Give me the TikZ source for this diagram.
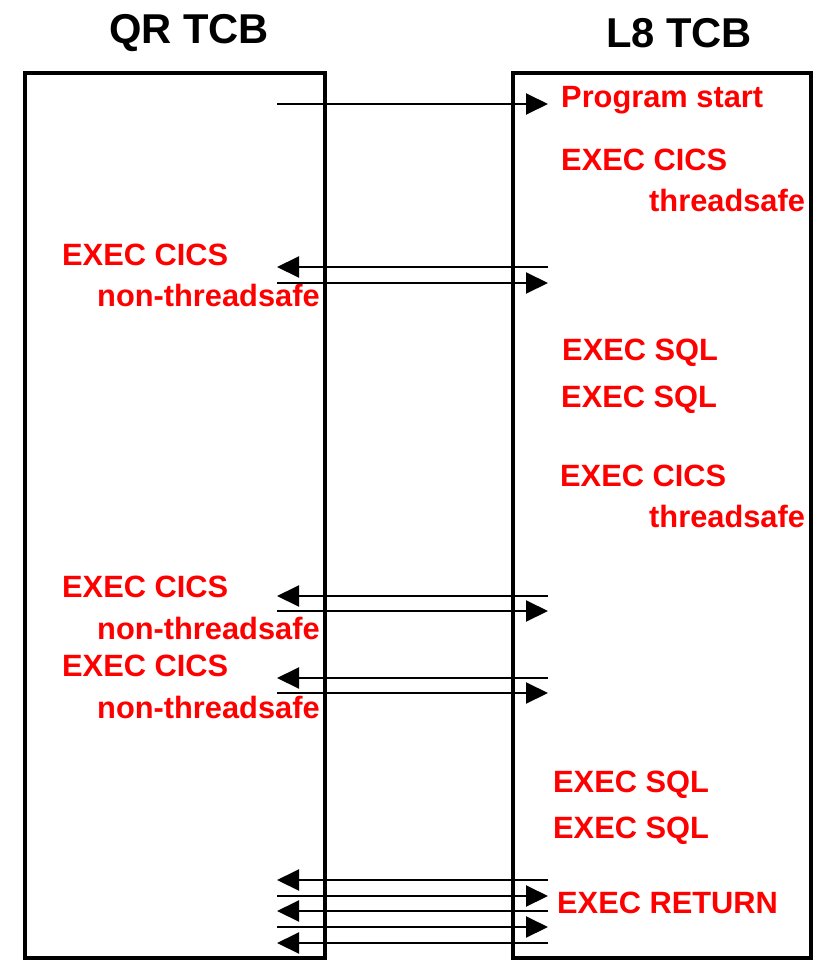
\documentclass[tikz,border=0pt]{standalone}
\usepackage{fontspec}
\setmainfont{Liberation Sans}
\usetikzlibrary{arrows.meta}
\begin{document}
\begin{tikzpicture}[x=1pt,y=-1pt,
  tcbbox/.style={draw=black,line width=3.6pt},
  title/.style={font=\fontsize{41.7}{48}\selectfont\bfseries,text=black,inner sep=0pt},
  lbl/.style={font=\fontsize{30.8}{36}\selectfont\bfseries,text=red,inner sep=0pt,anchor=base west},
  msg/.style={line width=2pt,-{Triangle[length=22pt,width=21pt]}}]
\useasboundingbox (0,0) rectangle (814,964);
% boxes
\draw[tcbbox] (25,73) rectangle (325,958);
\draw[tcbbox] (513,73) rectangle (811,958);
% titles
\node[title] (qr) at (189,33) {QR TCB};
\node[title] (l8) at (679,33) {L8 TCB};
% labels
\node[lbl] (ps) at (561,107) {Program start};
\node[lbl] (c1) at (561,170) {EXEC CICS};
\node[lbl] (t1) at (649,211) {threadsafe};
\node[lbl] (c2) at (62,265) {EXEC CICS};
\node[lbl] (n2) at (97,306) {non-threadsafe};
\node[lbl] (s1) at (562,360) {EXEC SQL};
\node[lbl] (s2) at (561,407) {EXEC SQL};
\node[lbl] (c3) at (560,486) {EXEC CICS};
\node[lbl] (t3) at (649,527) {threadsafe};
\node[lbl] (c4) at (62,597) {EXEC CICS};
\node[lbl] (n4) at (97,639) {non-threadsafe};
\node[lbl] (c5) at (62,676) {EXEC CICS};
\node[lbl] (n5) at (97,718) {non-threadsafe};
\node[lbl] (s3) at (553,792) {EXEC SQL};
\node[lbl] (s4) at (553,838) {EXEC SQL};
\node[lbl] (ret) at (557,913) {EXEC RETURN};
% arrow end points
\foreach \n/\y in {a/104,b/267,c/283,d/596,e/611,f/678,g/693,h/880,i/896,j/911,k/927,l/943}{
  \coordinate (L\n) at (277,\y);
  \coordinate (R\n) at (548,\y);
}
% arrows
\draw[msg] (La) -- (Ra);
\draw[msg] (Rb) -- (Lb);
\draw[msg] (Lc) -- (Rc);
\draw[msg] (Rd) -- (Ld);
\draw[msg] (Le) -- (Re);
\draw[msg] (Rf) -- (Lf);
\draw[msg] (Lg) -- (Rg);
\draw[msg] (Rh) -- (Lh);
\draw[msg] (Li) -- (Ri);
\draw[msg] (Rj) -- (Lj);
\draw[msg] (Lk) -- (Rk);
\draw[msg] (Rl) -- (Ll);
\end{tikzpicture}
\end{document}
